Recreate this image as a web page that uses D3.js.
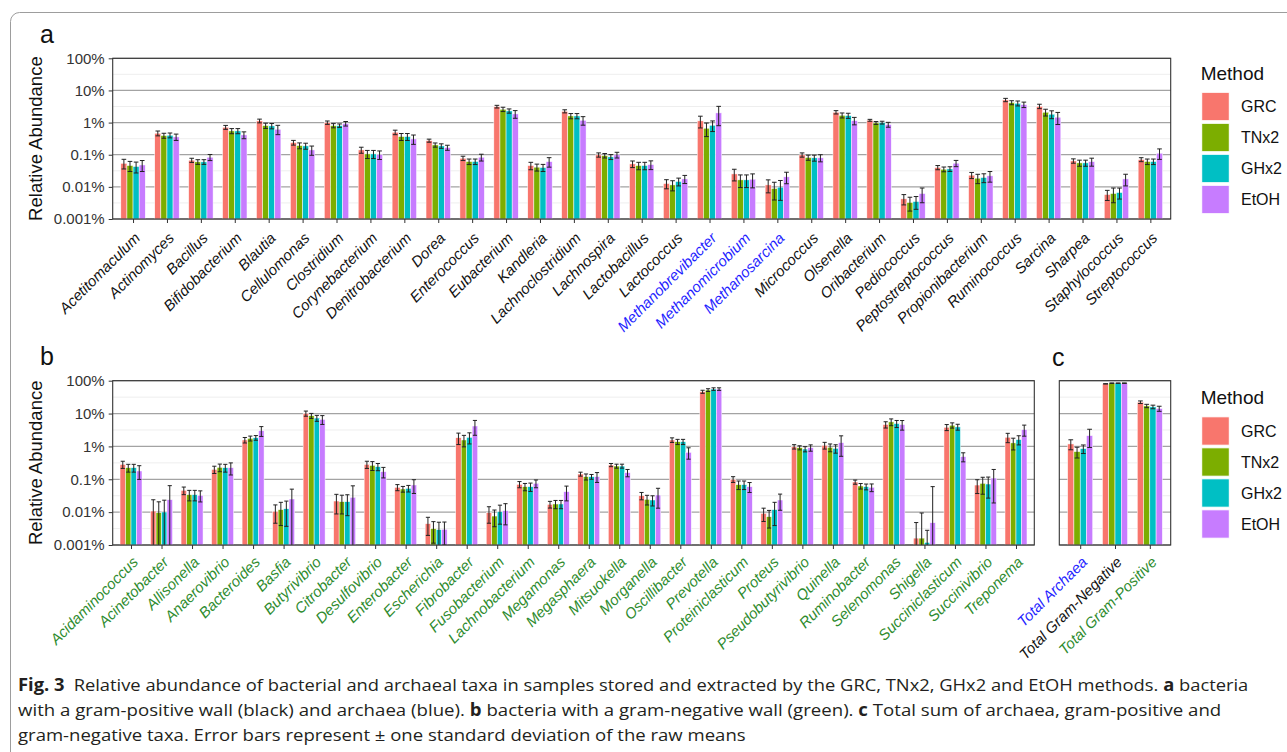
<!DOCTYPE html>
<html>
<head>
<meta charset="utf-8">
<script src="https://cdn.jsdelivr.net/npm/d3@7"></script>
<style>
  html, body { margin: 0; padding: 0; background: #fff; }
  svg { display: block; font-family: "Liberation Sans", Arial, sans-serif; }
</style>
</head>
<body>
<svg id="fig" width="1287" height="752"></svg>
<script>
// ---------- data (relative abundance, %) ----------
const methods = ["GRC", "TNx2", "GHx2", "EtOH"];
const methodColors = ["#F8766D", "#7CAE00", "#00BFC4", "#C77CFF"];

const yTicks = [0.001, 0.01, 0.1, 1, 10, 100];
const yTickLabels = ["0.001%", "0.01%", "0.1%", "1%", "10%", "100%"];

// panel a: gram-positive bacteria and archaea
const taxaA = ["Acetitomaculum", "Actinomyces", "Bacillus", "Bifidobacterium", "Blautia", "Cellulomonas",
  "Clostridium", "Corynebacterium", "Denitrobacterium", "Dorea", "Enterococcus", "Eubacterium", "Kandleria",
  "Lachnoclostridium", "Lachnospira", "Lactobacillus", "Lactococcus", "Methanobrevibacter", "Methanomicrobium",
  "Methanosarcina", "Micrococcus", "Olsenella", "Oribacterium", "Pediococcus", "Peptostreptococcus",
  "Propionibacterium", "Ruminococcus", "Sarcina", "Sharpea", "Staphylococcus", "Streptococcus"];
const archaeaA = ["Methanobrevibacter", "Methanomicrobium", "Methanosarcina"];

const grcA = [0.054, 0.466, 0.0675, 0.716, 1.13, 0.239, 1.0, 0.141, 0.5, 0.275, 0.0778, 3.14, 0.046, 2.25, 0.099, 0.0518, 0.0127, 1.13, 0.0253, 0.0115, 0.099, 2.1, 1.18, 0.00424, 0.040, 0.0231, 5.07, 3.22, 0.0643, 0.00578, 0.0708];
const tnA  = [0.046, 0.395, 0.060, 0.55, 0.807, 0.193, 0.807, 0.106, 0.367, 0.202, 0.0614, 2.6, 0.041, 1.61, 0.094, 0.046, 0.0115, 0.667, 0.0165, 0.0089, 0.082, 1.69, 0.977, 0.00326, 0.0354, 0.0186, 4.19, 2.1, 0.0557, 0.0062, 0.0614];
const ghA  = [0.043, 0.404, 0.060, 0.55, 0.788, 0.188, 0.807, 0.106, 0.367, 0.188, 0.0614, 2.31, 0.040, 1.61, 0.0857, 0.046, 0.0147, 0.826, 0.0165, 0.0098, 0.080, 1.65, 1.0, 0.0035, 0.0362, 0.0195, 3.99, 1.82, 0.0557, 0.00667, 0.0614];
const etA  = [0.048, 0.358, 0.0836, 0.414, 0.621, 0.141, 0.93, 0.101, 0.31, 0.167, 0.0836, 1.86, 0.061, 1.18, 0.099, 0.0494, 0.0177, 2.0, 0.0173, 0.0205, 0.080, 1.15, 0.867, 0.0062, 0.0545, 0.022, 3.63, 1.47, 0.061, 0.0177, 0.1115];

const sdGrcA = [0.018, 0.08, 0.01, 0.1, 0.15, 0.04, 0.12, 0.03, 0.08, 0.03, 0.012, 0.3, 0.012, 0.25, 0.015, 0.012, 0.004, 0.45, 0.01, 0.005, 0.015, 0.25, 0.08, 0.0015, 0.006, 0.005, 0.6, 0.5, 0.01, 0.002, 0.01];
const sdTnA  = [0.016, 0.07, 0.01, 0.1, 0.15, 0.04, 0.12, 0.03, 0.09, 0.03, 0.012, 0.4, 0.01, 0.3, 0.015, 0.012, 0.004, 0.3, 0.007, 0.005, 0.015, 0.3, 0.1, 0.0015, 0.006, 0.006, 0.6, 0.5, 0.012, 0.003, 0.012];
const sdGhA  = [0.016, 0.07, 0.01, 0.1, 0.15, 0.04, 0.1, 0.03, 0.09, 0.03, 0.012, 0.35, 0.01, 0.3, 0.015, 0.012, 0.004, 0.3, 0.007, 0.006, 0.017, 0.3, 0.1, 0.0015, 0.006, 0.006, 0.7, 0.5, 0.012, 0.0025, 0.012];
const sdEtA  = [0.018, 0.08, 0.018, 0.1, 0.2, 0.045, 0.15, 0.03, 0.1, 0.03, 0.02, 0.5, 0.02, 0.35, 0.02, 0.015, 0.005, 1.2, 0.008, 0.008, 0.02, 0.3, 0.15, 0.003, 0.012, 0.008, 0.7, 0.6, 0.017, 0.007, 0.04];

// panel b: gram-negative bacteria
const taxaB = ["Acidaminococcus", "Acinetobacter", "Allisonella", "Anaerovibrio", "Bacteroides", "Basfia",
  "Butyrivibrio", "Citrobacter", "Desulfovibrio", "Enterobacter", "Escherichia", "Fibrobacter", "Fusobacterium",
  "Lachnobacterium", "Megamonas", "Megasphaera", "Mitsuokella", "Morganella", "Oscillibacter", "Prevotella",
  "Proteiniclasticum", "Proteus", "Pseudobutyrivibrio", "Quinella", "Ruminobacter", "Selenomonas", "Shigella",
  "Succiniclasticum", "Succinivibrio", "Treponema"];

const grcB = [0.284, 0.0108, 0.046, 0.2, 1.57, 0.0106, 10.1, 0.0218, 0.284, 0.0569, 0.00446, 1.84, 0.0096, 0.0702, 0.0173, 0.1445, 0.272, 0.0317, 1.57, 46.2, 0.1, 0.0092, 0.981, 1.08, 0.0826, 4.63, 0.00162, 3.83, 0.0668, 1.9];
const tnB  = [0.225, 0.0096, 0.034, 0.23, 1.76, 0.0119, 8.6, 0.0208, 0.265, 0.0506, 0.00314, 1.57, 0.0076, 0.0596, 0.0177, 0.12, 0.253, 0.0245, 1.39, 52, 0.0686, 0.00728, 0.915, 0.937, 0.0624, 5.57, 0.00162, 4.41, 0.0751, 1.28];
const ghB  = [0.225, 0.0101, 0.034, 0.225, 1.84, 0.0127, 7.3, 0.0208, 0.242, 0.053, 0.00293, 1.89, 0.0103, 0.0596, 0.0177, 0.12, 0.253, 0.0234, 1.39, 55.7, 0.0686, 0.0119, 0.833, 0.873, 0.0596, 4.96, 0.0012, 3.92, 0.0717, 1.61];
const etB  = [0.179, 0.0239, 0.0324, 0.225, 3.01, 0.0251, 6.66, 0.0282, 0.17, 0.067, 0.003, 4.18, 0.0111, 0.0752, 0.042, 0.12, 0.159, 0.0332, 0.659, 55.7, 0.0596, 0.0234, 0.915, 1.3, 0.057, 4.63, 0.00475, 0.489, 0.109, 3.25];

const sdGrcB = [0.07, 0.013, 0.012, 0.05, 0.3, 0.006, 1.8, 0.013, 0.07, 0.012, 0.0025, 0.7, 0.005, 0.015, 0.004, 0.02, 0.03, 0.008, 0.25, 5, 0.02, 0.004, 0.15, 0.25, 0.012, 1.0, 0.0032, 0.8, 0.03, 0.6];
const sdTnB  = [0.06, 0.011, 0.012, 0.06, 0.3, 0.008, 1.5, 0.012, 0.08, 0.01, 0.002, 0.6, 0.004, 0.015, 0.005, 0.025, 0.035, 0.008, 0.25, 5, 0.02, 0.004, 0.13, 0.25, 0.012, 1.3, 0.0078, 0.8, 0.04, 0.5];
const sdGhB  = [0.06, 0.013, 0.012, 0.06, 0.3, 0.009, 1.5, 0.013, 0.06, 0.012, 0.002, 0.7, 0.006, 0.017, 0.005, 0.02, 0.035, 0.008, 0.25, 5, 0.02, 0.008, 0.15, 0.25, 0.012, 1.2, 0.0016, 0.8, 0.045, 0.5];
const sdEtB  = [0.08, 0.04, 0.012, 0.09, 1.0, 0.025, 2.0, 0.035, 0.06, 0.03, 0.002, 2.0, 0.007, 0.02, 0.02, 0.04, 0.04, 0.02, 0.25, 5, 0.02, 0.012, 0.2, 0.8, 0.015, 1.5, 0.055, 0.15, 0.09, 1.2];

// panel c: totals
const taxaC = ["Total Archaea", "Total Gram-Negative", "Total Gram-Positive"];
const groupC = ["archaea", "other", "green"];
const grcC = [1.19, 80.2, 22.2];
const tnC  = [0.694, 84, 17.1];
const ghC  = [0.857, 84, 16];
const etC  = [2.13, 84, 14.2];
const sdGrcC = [0.4, 1, 2];
const sdTnC  = [0.25, 1.5, 2];
const sdGhC  = [0.25, 1.5, 2];
const sdEtC  = [1.2, 1.5, 2.5];

// ---------- drawing ----------
const svg = d3.select("#fig");
const BLUE = "#1f1fff", GREEN = "#2e8b2e", BLACK = "#111";

// outer frame (right and bottom edges run past the page)
svg.append("rect").attr("x", 10.5).attr("y", 12.5).attr("width", 1290).attr("height", 800)
  .attr("rx", 9).attr("fill", "none").attr("stroke", "#9d9d9d").attr("stroke-width", 1);

let clipId = 0;
function panel(cfg) {
  const { left, right, top, bottom, taxa, series, sds, labelColor, showY, labelDy } = cfg;
  const g = svg.append("g");
  const x = d3.scalePoint().domain(taxa).range([left, right]).padding(0.6);
  const y = d3.scaleLog().domain([0.001, 100]).range([bottom, top]);
  const step = x.step();
  const groupW = step * 0.72, barW = groupW / 4;

  // grid
  const minor = yTicks.slice(0, -1).map(v => v * Math.sqrt(10));
  g.selectAll("line.minor").data(minor).join("line")
    .attr("x1", left).attr("x2", right).attr("y1", d => y(d)).attr("y2", d => y(d))
    .attr("stroke", "#ececec").attr("stroke-width", 0.9);
  g.selectAll("line.major").data(yTicks).join("line")
    .attr("x1", left).attr("x2", right).attr("y1", d => y(d)).attr("y2", d => y(d))
    .attr("stroke", "#a3a3a3").attr("stroke-width", 1.3);

  const id = "clip" + (clipId++);
  svg.append("clipPath").attr("id", id).append("rect")
    .attr("x", left).attr("y", top).attr("width", right - left).attr("height", bottom - top);
  const plot = g.append("g").attr("clip-path", `url(#${id})`);

  const rows = [];
  taxa.forEach((t, i) => series.forEach((s, j) => rows.push({
    t, j, v: s[i], sd: sds[j][i],
    cx: x(t) - groupW / 2 + (j + 0.5) * barW
  })));

  plot.selectAll("rect.bar").data(rows).join("rect")
    .attr("x", d => d.cx - barW / 2).attr("width", barW)
    .attr("y", d => y(d.v)).attr("height", d => bottom - y(d.v))
    .attr("fill", d => methodColors[d.j]).attr("stroke", "#fff").attr("stroke-width", 0.5);

  const cap = barW * 0.38;
  const lo = d => y(Math.max(d.v - d.sd, 1e-6));
  const hi = d => y(d.v + d.sd);
  const eb = plot.append("g").attr("stroke", "#222").attr("stroke-width", 1);
  eb.selectAll("line.v").data(rows).join("line")
    .attr("x1", d => d.cx).attr("x2", d => d.cx).attr("y1", lo).attr("y2", hi);
  eb.selectAll("line.t").data(rows).join("line")
    .attr("x1", d => d.cx - cap).attr("x2", d => d.cx + cap).attr("y1", hi).attr("y2", hi);
  eb.selectAll("line.b").data(rows).join("line")
    .attr("x1", d => d.cx - cap).attr("x2", d => d.cx + cap).attr("y1", lo).attr("y2", lo);

  // border
  g.append("rect").attr("x", left).attr("y", top).attr("width", right - left).attr("height", bottom - top)
    .attr("fill", "none").attr("stroke", "#333").attr("stroke-width", 1.1);

  // axes
  if (showY) {
    const ya = g.append("g").attr("transform", `translate(${left},0)`)
      .call(d3.axisLeft(y).tickValues(yTicks).tickFormat((d, i) => yTickLabels[i]).tickSize(4).tickPadding(4));
    ya.select(".domain").remove();
    ya.selectAll(".tick line").attr("stroke", "#333");
    ya.selectAll(".tick text").attr("font-size", 15).attr("fill", "#333")
      .attr("font-family", "Liberation Sans, Arial, sans-serif");
  }
  const xa = g.append("g").attr("transform", `translate(0,${bottom})`)
    .call(d3.axisBottom(x).tickSize(4).tickFormat(""));
  xa.select(".domain").remove();
  xa.selectAll(".tick line").attr("stroke", "#333");

  g.selectAll("text.cat").data(taxa).join("text")
    .attr("class", "cat")
    .attr("transform", d => `translate(${x(d) + 8},${bottom + labelDy}) rotate(-45)`)
    .attr("text-anchor", "end")
    .attr("font-size", 15).attr("font-style", "italic")
    .attr("fill", (d, i) => labelColor(d, i))
    .text(d => d);
  return { x, y };
}

panel({
  left: 112.7, right: 1170.7, top: 58.3, bottom: 219, taxa: taxaA,
  series: [grcA, tnA, ghA, etA], sds: [sdGrcA, sdTnA, sdGhA, sdEtA],
  labelColor: d => archaeaA.includes(d) ? BLUE : BLACK, showY: true, labelDy: 20
});
panel({
  left: 112.7, right: 1034.3, top: 380.7, bottom: 545, taxa: taxaB,
  series: [grcB, tnB, ghB, etB], sds: [sdGrcB, sdTnB, sdGhB, sdEtB],
  labelColor: () => GREEN, showY: true, labelDy: 18
});
panel({
  left: 1059.3, right: 1170.7, top: 380.7, bottom: 545, taxa: taxaC,
  series: [grcC, tnC, ghC, etC], sds: [sdGrcC, sdTnC, sdGhC, sdEtC],
  labelColor: (d, i) => groupC[i] === "archaea" ? BLUE : groupC[i] === "green" ? GREEN : BLACK,
  showY: false, labelDy: 18
});

// axis titles
[[138.6, "Relative Abundance"], [462.8, "Relative Abundance"]].forEach(([cy, t]) => {
  svg.append("text").attr("transform", `translate(41.5,${cy}) rotate(-90)`)
    .attr("text-anchor", "middle").attr("font-size", 18.5).attr("fill", "#111").text(t);
});

// panel letters
[["a", 40, 43], ["b", 40, 365], ["c", 1052, 366]].forEach(([t, x, y]) => {
  svg.append("text").attr("x", x).attr("y", y).attr("font-size", 25).attr("fill", "#111").text(t);
});

// legends
function legend(top) {
  const g = svg.append("g");
  g.append("text").attr("x", 1200.7).attr("y", top).attr("font-size", 19).attr("fill", "#111").text("Method");
  methods.forEach((m, i) => {
    const ky = top + 12.8 + i * 31;
    g.append("rect").attr("x", 1201.7).attr("y", ky).attr("width", 27.6).attr("height", 28.4)
      .attr("fill", methodColors[i]).attr("stroke", "#fff").attr("stroke-width", 1);
    g.append("text").attr("x", 1241).attr("y", ky + 14.2 + 5.7).attr("font-size", 16).attr("fill", "#111").text(m);
  });
}
legend(79.5);
legend(404);

// caption
const captionLines = [
  { y: 691, w: 1231, parts: [["Fig. 3", true], ["\u2002Relative abundance of bacterial and archaeal taxa in samples stored and extracted by the GRC, TNx2, GHx2 and EtOH methods. ", false], ["a", true], [" bacteria", false]] },
  { y: 716, w: 1204, parts: [["with a gram-positive wall (black) and archaea (blue). ", false], ["b", true], [" bacteria with a gram-negative wall (green). ", false], ["c", true], [" Total sum of archaea, gram-positive and", false]] },
  { y: 741, w: 728, parts: [["gram-negative taxa. Error bars represent \u00b1 one standard deviation of the raw means", false]] }
];
captionLines.forEach(line => {
  const g = svg.append("g");
  const t = g.append("text").attr("x", 0).attr("y", 0).attr("font-size", 17)
    .attr("font-family", "'Open Sans', 'Liberation Sans', sans-serif").attr("fill", "#231f20");
  line.parts.forEach(([s, b]) => t.append("tspan").attr("font-weight", b ? "bold" : "normal").text(s));
  const bw = t.node().getComputedTextLength();
  g.attr("transform", `translate(18,${line.y}) scale(${line.w / bw},1)`);
});
</script>
</body>
</html>
